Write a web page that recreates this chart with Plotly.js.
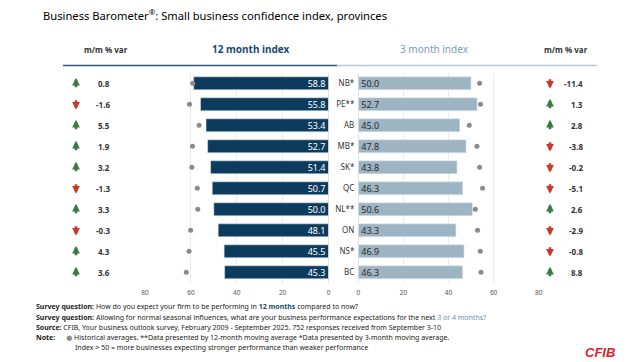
<!DOCTYPE html>
<html><head><meta charset="utf-8">
<script src="https://cdn.plot.ly/plotly-3.0.1.min.js"></script>
<style>html,body{margin:0;padding:0;background:#fff}#chart{width:635px;height:362px}</style>
</head><body><div id="chart"></div>
<script>
var provinces = ["NB*", "PE**", "AB", "MB*", "SK*", "QC", "NL**", "ON", "NS*", "BC"];
var index12 = [58.8, 55.8, 53.4, 52.7, 51.4, 50.7, 50.0, 48.1, 45.5, 45.3];
var hist12 = [59.2, 60.6, 56.4, 59.3, 59.6, 57.2, 57.0, 60.1, 60.8, 62.0];
var index3 = [50.0, 52.7, 45.0, 47.8, 43.8, 46.3, 50.6, 43.3, 46.9, 46.3];
var hist3 = [53.8, 54.2, 49.2, 52.6, 53.8, 55.1, 51.9, 52.9, 54.1, 54.4];
var mm12 = [0.8, -1.6, 5.5, 1.9, 3.2, -1.3, 3.3, -0.3, 4.3, 3.6];
var mm3 = [-11.4, 1.3, 2.8, -3.8, -0.2, -5.1, 2.6, -2.9, -0.8, 8.8];
var tickVals = [0, 20, 40, 60, 80];

var W = 635, H = 362;
var FONT = "Noto Sans, DejaVu Sans, sans-serif";
var NAVY = "#0d3b5e", LIGHT = "#9db4c3", DOT = "#8a8a8a";
var GREEN = "#3b7a45", RED = "#c8392e";
function px(x){return x / W;}
function py(y){return 1 - y / H;}

var traces = [
  {type:"bar", orientation:"h", x:index12, y:provinces, xaxis:"x", yaxis:"y",
   marker:{color:NAVY, line:{color:"#d9e2e9", width:0.6}}, width:0.62,
   texttemplate:"%{x:.1f}", textposition:"inside", insidetextanchor:"start",
   textangle:0, constraintext:"none",
   insidetextfont:{family:FONT, size:9, color:"#ffffff"}, hoverinfo:"skip"},
  {type:"scatter", mode:"markers", x:hist12, y:provinces, xaxis:"x", yaxis:"y",
   marker:{color:DOT, size:5}, hoverinfo:"skip", cliponaxis:false},
  {type:"bar", orientation:"h", x:index3, y:provinces, xaxis:"x2", yaxis:"y2",
   marker:{color:LIGHT, line:{color:"#e3eaef", width:0.6}}, width:0.62,
   texttemplate:"%{x:.1f}", textposition:"inside", insidetextanchor:"start",
   textangle:0, constraintext:"none",
   insidetextfont:{family:FONT, size:9, color:"#2b2b2b"}, hoverinfo:"skip"},
  {type:"scatter", mode:"markers", x:hist3, y:provinces, xaxis:"x2", yaxis:"y2",
   marker:{color:DOT, size:5}, hoverinfo:"skip", cliponaxis:false}
];

var yTop = 72.8, yBot = 282.8;
var ann = [];
ann.push({xref:"paper", yref:"paper", x:px(41), y:py(15), xanchor:"left", yanchor:"middle", showarrow:false,
  text:"Business Barometer<sup>®</sup>: Small business confidence index, provinces",
  font:{family:FONT, size:11.2, color:"#000"}});
ann.push({xref:"paper", yref:"paper", x:px(106), y:py(50), xanchor:"center", yanchor:"middle", showarrow:false,
  text:"<b>m/m % var</b>", font:{family:FONT, size:8, color:"#333"}});
ann.push({xref:"paper", yref:"paper", x:px(566), y:py(50), xanchor:"center", yanchor:"middle", showarrow:false,
  text:"<b>m/m % var</b>", font:{family:FONT, size:8, color:"#333"}});
ann.push({xref:"paper", yref:"paper", x:px(251), y:py(49), xanchor:"center", yanchor:"middle", showarrow:false,
  text:"<b>12 month index</b>", font:{family:FONT, size:10, color:"#1c4a6e"}});
ann.push({xref:"paper", yref:"paper", x:px(434), y:py(49), xanchor:"center", yanchor:"middle", showarrow:false,
  text:"3 month index", font:{family:FONT, size:10, color:"#7d9bb2"}});

function arrowAnn(xp, yref, cat, v) {
  var up = v >= 0;
  return {xref:"paper", yref:yref, x:px(xp), y:cat, text:"", showarrow:true,
    ax:0, ay:up ? 11 : -11, yshift:up ? 5.5 : -5.5,
    arrowhead:2, arrowsize:0.6, arrowwidth:2.6, arrowcolor:up ? GREEN : RED, standoff:0, startstandoff:0};
}

for (var i = 0; i < provinces.length; i++) {
  ann.push(arrowAnn(76, "y", provinces[i], mm12[i]));
  ann.push({xref:"paper", yref:"y", x:px(112), y:provinces[i], xanchor:"right", yanchor:"middle", showarrow:false,
    text:"<b>" + mm12[i].toFixed(1) + "</b>", font:{family:FONT, size:8, color:"#333"}});
  ann.push(arrowAnn(550, "y2", provinces[i], mm3[i]));
  ann.push({xref:"paper", yref:"y2", x:px(585), y:provinces[i], xanchor:"right", yanchor:"middle", showarrow:false,
    text:"<b>" + mm3[i].toFixed(1) + "</b>", font:{family:FONT, size:8, color:"#333"}});
}

var foot = [
  "<b>Survey question:</b> How do you expect your firm to be performing in <b><span style='color:#1c4a6e'>12 months</span></b> compared to now?",
  "<b>Survey question:</b> Allowing for normal seasonal influences, what are your business performance expectations for the next <span style='color:#6f8fa8'>3 or 4 months?</span>",
  "<b>Source:</b> CFIB, Your business outlook survey, February 2009 - September 2025. 752 responses received from September 3-10",
  "<b>Note:</b>      <span style='color:#8a8a8a'>●</span> Historical averages. **Data presented by 12-month moving average *Data presented by 3-month moving average."
];
var footY = [306, 317, 327.5, 337.5];
for (var j = 0; j < foot.length; j++) {
  ann.push({xref:"paper", yref:"paper", x:px(34), y:py(footY[j]), xanchor:"left", yanchor:"middle", showarrow:false,
    text:foot[j], font:{family:FONT, size:7, color:"#222"}});
}
ann.push({xref:"paper", yref:"paper", x:px(73), y:py(347.5), xanchor:"left", yanchor:"middle", showarrow:false,
  text:"Index > 50 = more businesses expecting stronger performance than weaker performance", font:{family:FONT, size:7, color:"#222"}});
ann.push({xref:"paper", yref:"paper", x:px(600), y:py(352), xanchor:"center", yanchor:"middle", showarrow:false,
  text:"<b><i>CFIB</i></b>", font:{family:"Liberation Sans, Arial, sans-serif", size:13, color:"#e0202a"}});

var axX = {showgrid:true, gridcolor:"#ececec", gridwidth:1, zeroline:true, zerolinecolor:"#e4e4e4", zerolinewidth:1,
  tickvals:tickVals, ticks:"outside", ticklen:3, tickcolor:"rgba(0,0,0,0)", showline:false,
  tickfont:{family:FONT, size:6.5, color:"#555"}, fixedrange:true};

var layout = {
  width:W, height:H, margin:{l:0, r:0, t:0, b:0}, paper_bgcolor:"#fff", plot_bgcolor:"#fff",
  showlegend:false, barmode:"overlay", font:{family:FONT},
  xaxis:Object.assign({}, axX, {domain:[px(145), px(328.5)], range:[80, 0], anchor:"y"}),
  xaxis2:Object.assign({}, axX, {domain:[px(358.3), px(538.7)], range:[0, 80], anchor:"y2"}),
  yaxis:{domain:[py(yBot), py(yTop)], range:[9.5, -0.5], type:"category", showticklabels:false, showgrid:false,
    zeroline:false, anchor:"x", fixedrange:true},
  yaxis2:{domain:[py(yBot), py(yTop)], range:[9.5, -0.5], type:"category", showgrid:false, zeroline:false,
    anchor:"x2", ticks:"", ticklabelstandoff:3, tickfont:{family:FONT, size:8, color:"#333"}, fixedrange:true},
  shapes:[
    {type:"line", xref:"paper", yref:"paper", x0:px(63), x1:px(337), y0:py(65.5), y1:py(65.5), line:{color:"#33597a", width:1.3}},
    {type:"line", xref:"paper", yref:"paper", x0:px(337), x1:px(597), y0:py(65.5), y1:py(65.5), line:{color:"#b7c8d5", width:1.3}}
  ],
  annotations:ann
};
Plotly.newPlot("chart", traces, layout, {staticPlot:true, displayModeBar:false});
</script></body></html>
